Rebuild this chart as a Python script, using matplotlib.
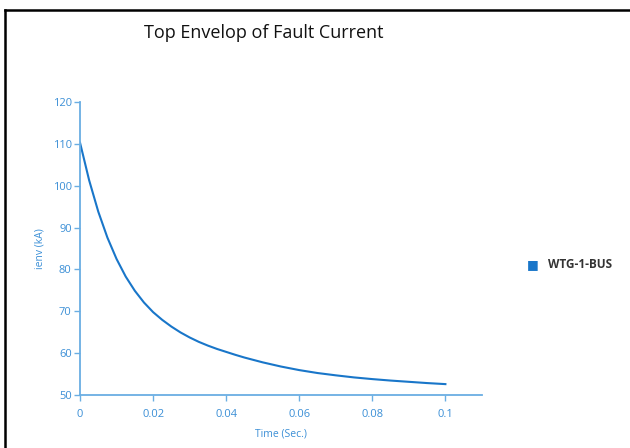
import matplotlib
matplotlib.use("Agg")
import matplotlib.pyplot as plt
from matplotlib.lines import Line2D

plt.rcParams['font.family'] = ['Open Sans', 'DejaVu Sans']

# time (s) and top envelope current (kA)
time_s = [0.0, 0.0025, 0.005, 0.0075, 0.01, 0.0125, 0.015, 0.0175,
          0.02, 0.0225, 0.025, 0.0275, 0.03, 0.0325, 0.035, 0.0375,
          0.04, 0.0425, 0.045, 0.05, 0.055, 0.06, 0.065, 0.07, 0.075,
          0.08, 0.085, 0.09, 0.095, 0.1]
ienv_ka = [110.3, 101.3, 93.8, 87.6, 82.5, 78.3, 74.9, 72.1,
           69.8, 67.95, 66.35, 64.95, 63.75, 62.7, 61.8, 61.0,
           60.3, 59.6, 58.95, 57.8, 56.8, 55.95, 55.25, 54.7, 54.2,
           53.8, 53.45, 53.15, 52.85, 52.6]
series_name = "WTG-1-BUS"
x_ticks = [0, 0.02, 0.04, 0.06, 0.08, 0.1]
x_tick_labels = ["0", "0.02", "0.04", "0.06", "0.08", "0.1"]
y_ticks = [50, 60, 70, 80, 90, 100, 110, 120]

line_col = "#1976c9"
axis_col = "#6aaee3"
text_col = "#3b8fd6"

fig = plt.figure(figsize=(6.3, 4.48), dpi=100)
ax = fig.add_axes([0.127, 0.1183, 0.638, 0.654])

ax.plot(time_s, ienv_ka, color=line_col, lw=1.5, solid_joinstyle="round")
ax.set_xlim(0, 0.11)
ax.set_ylim(50, 120)
ax.set_xticks(x_ticks)
ax.set_xticklabels(x_tick_labels)
ax.set_yticks(y_ticks)

for s in ["top", "right"]:
    ax.spines[s].set_visible(False)
for s in ["left", "bottom"]:
    ax.spines[s].set_color(axis_col)
    ax.spines[s].set_linewidth(1.3)
ax.tick_params(colors=axis_col, labelcolor=text_col, labelsize=8,
               length=4, width=1, direction="out", pad=2)
ax.tick_params(axis="x", pad=6)

ax.set_xlabel("Time (Sec.)", color=text_col, fontsize=7.5)
ax.xaxis.set_label_coords(0.5, -0.115)
ax.set_ylabel("ienv (kA)", color=text_col, fontsize=7.5)
ax.yaxis.set_label_coords(-0.085, 0.5)

fig.text(264 / 630, 1 - 33 / 448, "Top Envelop of Fault Current",
         ha="center", va="center", fontsize=13, color="#111111")

# legend on the right
fig.text(533 / 630, 1 - 265 / 448, "\u25A0", ha="center", va="center",
         fontsize=9, color=line_col, family=['DejaVu Sans'])
fig.text(548 / 630, 1 - 265 / 448, series_name, ha="left", va="center",
         fontsize=8.5, fontweight="bold", color="#333333")

# frame lines at top and left
fig.add_artist(Line2D([5 / 630, 1], [1 - 10 / 448, 1 - 10 / 448],
                      transform=fig.transFigure, color="black", lw=1.8))
fig.add_artist(Line2D([5 / 630, 5 / 630], [0, 1 - 10 / 448],
                      transform=fig.transFigure, color="black", lw=1.8))

fig.savefig("out.png", dpi=100)
